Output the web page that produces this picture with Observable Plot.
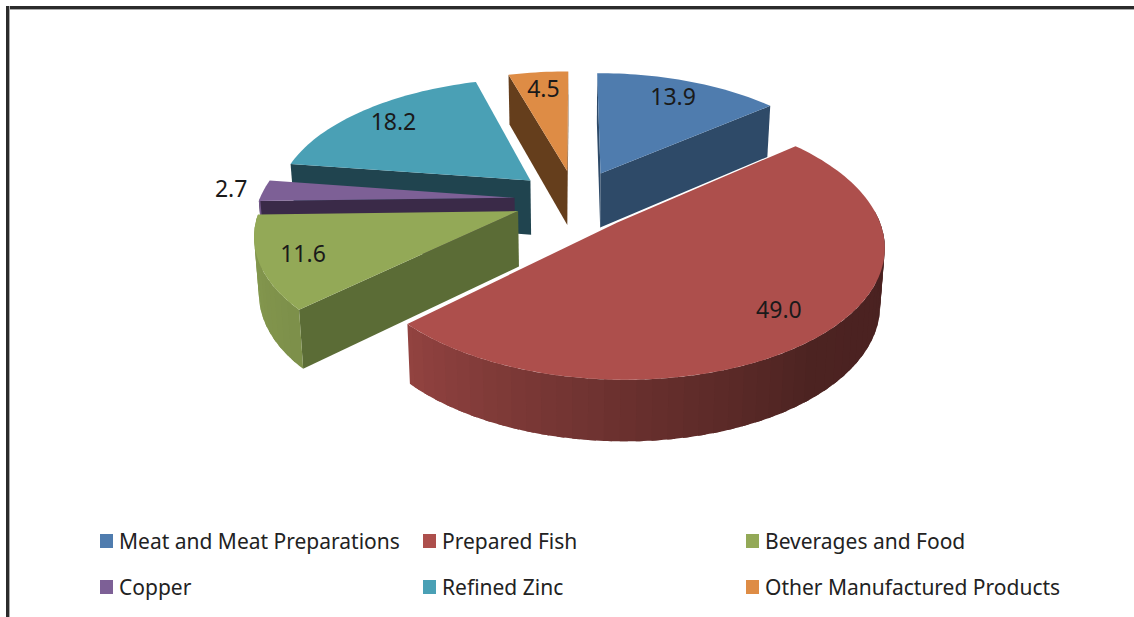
<!DOCTYPE html>
<html>
<head>
<meta charset="utf-8">
<script src="https://cdn.jsdelivr.net/npm/d3@7"></script>
<script src="https://cdn.jsdelivr.net/npm/@observablehq/plot@0.6"></script>
<style>
  html, body { margin: 0; padding: 0; background: #fff; overflow: hidden; }
  #page { position: relative; width: 1134px; height: 617px; overflow: hidden; font-family: "Noto Sans", sans-serif; }
  #frameTop { position: absolute; left: 6px; right: 0; top: 6px; height: 3px; background: #2b2b2b; border-bottom: 1px solid #aaa; }
  #frameLeft { position: absolute; left: 6px; top: 6px; bottom: 0; width: 3px; background: #2b2b2b; border-right: 1px solid #aaa; }
  #chart { position: absolute; left: 0; top: 0; }
  .key { position: absolute; display: flex; align-items: center; gap: 6px; font-size: 21px; line-height: 24px; color: #222; white-space: nowrap; }
  .key i { display: block; width: 13px; height: 14px; }
</style>
</head>
<body>
<div id="page">
  <div id="chart"></div>
  <div id="frameTop"></div>
  <div id="frameLeft"></div>
</div>
<script>
// Export shares, percent
const categories = ["Meat and Meat Preparations", "Prepared Fish", "Beverages and Food", "Copper", "Refined Zinc", "Other Manufactured Products"];
const shares = [13.9, 49.0, 11.6, 2.7, 18.2, 4.5];
const topColors = ["#4f7cae", "#ad4f4c", "#93a957", "#7d6096", "#4aa0b5", "#de8c45"];
const wallColors = ["#2e4a68", "#6b2c2b", "#5b6c36", "#3a2a48", "#20444f", "#653e1c"];
// Back slices are painted first so the front ones overlap them
const paintOrder = [4, 5, 0, 3, 2, 1];
// Distance of each value label from its slice tip, in pie radii
const labelRadius = [0.8, 0.81, 0.84, 1.13, 0.81, 0.8];

// Layout of the tilted pie, in units of one pie radius
const width = 1134, height = 510;
const centerX = 575, centerY = 199;
const radiusX = 255, radiusY = 124;
const explode = 0.24, perspective = 0.16;
const thickness = 0.444, thicknessPerspective = 0.09, baseShrink = 0.985;
const rad = Math.PI / 180;

// Ground point of the pie plane to chart coordinates; lift 1 is the underside
function project(X, Y, lift = 0) {
  const s = 1 / (1 - perspective * Y);
  const drop = lift * thickness / (1 - thicknessPerspective * Y);
  return {x: X * s * (lift ? baseShrink : 1), y: Y * s + drop};
}

const arcs = d3.pie().sort(null).startAngle(0).endAngle(2 * Math.PI)(shares);

const slices = shares.map((value, i) => {
  const a0 = arcs[i].startAngle / rad, a1 = arcs[i].endAngle / rad, mid = (a0 + a1) / 2;
  const ox = explode * Math.sin(mid * rad), oy = -explode * Math.cos(mid * rad);
  const rim = (a, f = 1) => [ox + f * Math.sin(a * rad), oy - f * Math.cos(a * rad)];
  return {i, value, a0, a1, mid, ox, oy, rim};
});

function angleSteps(a0, a1, step) {
  const n = Math.max(1, Math.ceil((a1 - a0) / step));
  return d3.range(n + 1).map((k) => a0 + (a1 - a0) * k / n);
}

// How far the outer wall is darkened as it turns away from the light
const rimShade = d3.scaleLinear().domain([85, 140, 180, 226, 270]).range([0.42, 0.44, 0.62, 0.85, 0.92]).clamp(true);
const darken = (color, k) => {
  const c = d3.rgb(color);
  return d3.rgb(c.r * k, c.g * k, c.b * k).formatHex();
};

const screenArea = (pts) => d3.polygonArea(pts.map((p) => [p.x, p.y]));

const facets = [];
let nextId = 0;
const pushFace = (pts, color) => {
  const id = nextId++;
  for (const p of pts) facets.push({id, x: p.x, y: p.y, color});
};

for (const index of paintOrder) {
  const sl = slices[index];
  const apex = [sl.ox, sl.oy];
  // Side walls along the two straight edges, kept only when they face the viewer
  for (const [a, sign] of [[sl.a0, 1], [sl.a1, -1]]) {
    const r = sl.rim(a);
    const wall = [project(...apex), project(...r), project(...r, 1), project(...apex, 1)];
    if (sign * screenArea(wall) > 0) pushFace(wall, wallColors[index]);
  }
  // Outer wall, in thin bands painted from the far end so that each one
  // tucks under its neighbour and no seams show
  const from = Math.max(sl.a0, 85), to = Math.min(sl.a1, 270);
  if (from < to) {
    const steps = angleSteps(from, to, 3);
    for (let k = steps.length - 2; k >= 0; k--) {
      const bandTop = angleSteps(steps[k], Math.min(steps[k + 1] + 1.5, to), 0.75);
      const upper = bandTop.map((a) => project(...sl.rim(a)));
      const lower = bandTop.map((a) => project(...sl.rim(a), 1)).reverse();
      pushFace([...upper, ...lower], darken(topColors[index], rimShade((steps[k] + steps[k + 1]) / 2)));
    }
  }
  // Top face
  pushFace([project(...apex), ...angleSteps(sl.a0, sl.a1, 1.5).map((a) => project(...sl.rim(a)))], topColors[index]);
}

// Value labels: inside the slice, except for very thin slices
const labels = slices.map((sl) => {
  const [X, Y] = sl.rim(sl.mid, labelRadius[sl.i]);
  return {...project(X, Y), text: sl.value.toFixed(1)};
});

const chart = Plot.plot({
  width, height,
  margin: 0,
  style: {background: "transparent"},
  x: {domain: [-centerX / radiusX, (width - centerX) / radiusX], range: [0, width], axis: null},
  y: {domain: [-centerY / radiusY, (height - centerY) / radiusY], range: [0, height], axis: null},
  color: {type: "identity"},
  marks: [
    Plot.line(facets, {x: "x", y: "y", z: "id", fill: "color", stroke: "none"}),
    Plot.text(labels, {x: "x", y: "y", text: "text", fill: "#1a1a1a", fontSize: 23, fontFamily: "Noto Sans"})
  ]
});
document.getElementById("chart").append(chart);

// Legend: three columns, two rows
const page = document.getElementById("page");
const keyLeft = [100, 423, 746], keyTop = [529, 575];
const keyOrder = [[0, 0, 0], [1, 1, 0], [2, 2, 0], [3, 0, 1], [4, 1, 1], [5, 2, 1]];
for (const [i, col, row] of keyOrder) {
  const key = document.createElement("div");
  key.className = "key";
  key.style.left = keyLeft[col] + "px";
  key.style.top = keyTop[row] + "px";
  const swatch = document.createElement("i");
  swatch.style.background = topColors[i];
  key.append(swatch, categories[i]);
  page.append(key);
}
</script>
</body>
</html>
